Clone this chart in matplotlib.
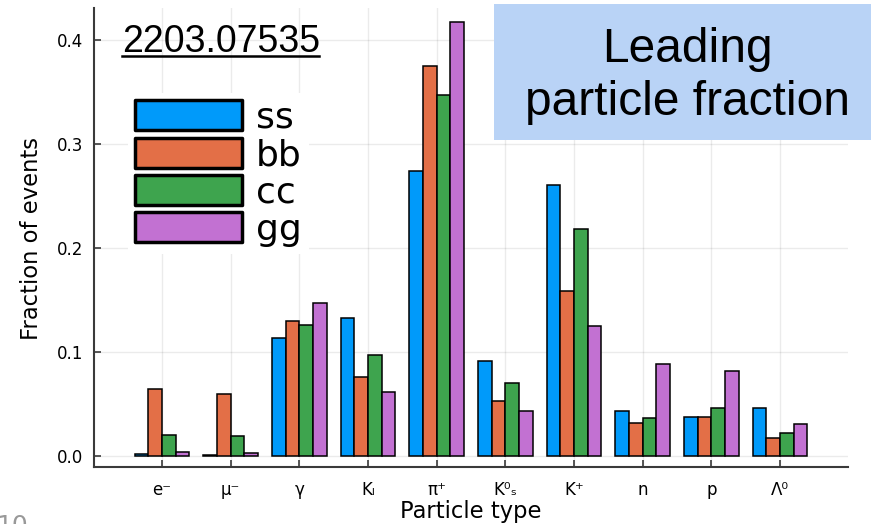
import matplotlib
matplotlib.use("Agg")
import matplotlib.pyplot as plt
import numpy as np
from matplotlib.patches import Rectangle
from matplotlib.lines import Line2D

categories = ["e⁻", "μ⁻", "γ", "Kₗ", "π⁺", "K⁰ₛ", "K⁺", "n", "p", "Λ⁰"]
series_names = ["ss", "bb", "cc", "gg"]
ss = [0.002, 0.0005, 0.1135, 0.1324, 0.274, 0.0910, 0.2609, 0.0436, 0.0378, 0.0465]
bb = [0.0647, 0.0597, 0.1298, 0.0756, 0.375, 0.0532, 0.159, 0.0314, 0.0372, 0.0170]
cc = [0.0199, 0.0192, 0.1256, 0.0974, 0.347, 0.0699, 0.2183, 0.0362, 0.0458, 0.0224]
gg = [0.0042, 0.0029, 0.1474, 0.0619, 0.417, 0.0436, 0.1247, 0.0881, 0.0814, 0.0308]
yticks = [0.0, 0.1, 0.2, 0.3, 0.4]
colors = ["#009AFA", "#E36F47", "#3EA44E", "#C271D2"]

W, H = 871, 524
fig = plt.figure(figsize=(W / 100, H / 100), dpi=100)
ax = fig.add_axes([94 / W, 57 / H, 754 / W, 459 / H])

x = np.arange(len(categories))
bw = 0.2
for i, (vals, name) in enumerate(zip([ss, bb, cc, gg], series_names)):
    ax.bar(x + (i - 1.5) * bw, vals, width=bw, color=colors[i], edgecolor="black",
           linewidth=1.1, label=name, zorder=3)

ax.set_xlim(-0.99, 9.99)
ax.set_ylim(-0.0106, 0.4308)
ax.set_xticks(x)
ax.set_xticklabels(categories)
ax.set_yticks(yticks)
ax.set_yticklabels([f"{v:.1f}" for v in yticks])
ax.grid(True, color="black", alpha=0.08, linewidth=1)
ax.set_axisbelow(True)
for s in ["top", "right"]:
    ax.spines[s].set_visible(False)
for s in ["left", "bottom"]:
    ax.spines[s].set_color("#3a3a3a")
    ax.spines[s].set_linewidth(1.5)
ax.tick_params(direction="in", length=5, width=1.2, color="#3a3a3a",
               labelsize=12, pad=8, labelcolor="black")
ax.tick_params(axis="x", pad=10)

ax.set_xlabel("Particle type", fontsize=16.3)
ax.set_ylabel("Fraction of events", fontsize=16.3)
ax.xaxis.set_label_coords(0.5, (467 - 500) / 459)
ax.yaxis.label.set_va("center")
ax.yaxis.set_label_coords((31 - 94) / 754, 0.498)

leg = ax.legend(loc="upper left", bbox_to_anchor=(128 / W, 1 - 93 / H),
                bbox_transform=fig.transFigure, fontsize=26, frameon=True,
                fancybox=False, edgecolor="none", facecolor="white", framealpha=1,
                handlelength=2.95, handleheight=0.9, labelspacing=0.08,
                handletextpad=0.4, borderpad=0.2, borderaxespad=0)
for h in leg.legend_handles:
    h.set_linewidth(2.5)
    h.set_joinstyle("round")

# paper id with underline
fig.text(122 / W, 1 - 52 / H, "2203.07535", fontsize=27, family="Liberation Sans",
         va="baseline", ha="left")
fig.add_artist(Line2D([122 / W, 319 / W], [1 - 56 / H, 1 - 56 / H], color="black",
                      linewidth=1.8, transform=fig.transFigure))

# title box
fig.add_artist(Rectangle((494 / W, 1 - 140 / H), (W - 494) / W, 136 / H,
                         transform=fig.transFigure, facecolor="#B9D3F6",
                         edgecolor="none", zorder=5))
fig.text(687 / W, 1 - 62 / H, "Leading", fontsize=34.5, family="Liberation Sans",
         ha="center", va="baseline", zorder=6)
fig.text(687 / W, 1 - 115 / H, "particle fraction", fontsize=34.5,
         family="Liberation Sans", ha="center", va="baseline", zorder=6)

# partially visible page number at the bottom-left edge
fig.text(-0.004, 1 - 514 / H, "10", fontsize=18, color="#999999", ha="left", va="top")

fig.savefig("out.png", dpi=100)
